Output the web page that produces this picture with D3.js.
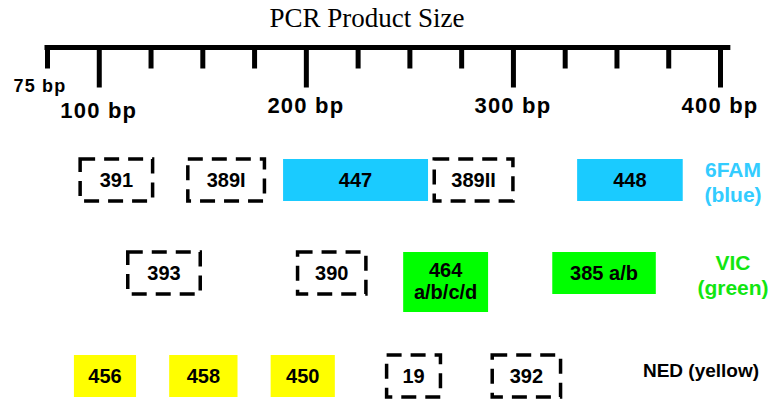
<!DOCTYPE html>
<html>
<head>
<meta charset="utf-8">
<script src="https://cdnjs.cloudflare.com/ajax/libs/d3/7.8.5/d3.min.js"></script>
<style>
  body { margin: 0; background: #fff; }
  text { font-family: "Liberation Sans", Arial, sans-serif; font-weight: bold; }
</style>
</head>
<body>
<div id="chart"></div>
<script>
// PCR product size map: markers placed by size range, one row per dye

var tickBp = [75, 100, 125, 150, 175, 200, 225, 250, 275, 300, 325, 350, 375, 400];
var tickLabels = ["75 bp", "100 bp", "200 bp", "300 bp", "400 bp"];
var labelBp = [75, 100, 200, 300, 400];

var dyes = ["6FAM", "VIC", "NED"];
var dyeNames = ["6FAM\n(blue)", "VIC\n(green)", "NED (yellow)"];

var markers = ["391", "389I", "447", "389II", "448",
               "393", "390", "464\na/b/c/d", "385 a/b",
               "456", "458", "450", "19", "392"];
var startBp = [91, 143, 189, 262, 331, 114, 196, 247, 319, 88, 134, 183, 239, 290];
var endBp   = [126, 180, 259, 300, 382, 149, 229, 288, 369, 118, 167, 214, 265, 323];
var markerDye = ["6FAM", "6FAM", "6FAM", "6FAM", "6FAM",
                 "VIC", "VIC", "VIC", "VIC",
                 "NED", "NED", "NED", "NED", "NED"];
// true = labelled product (filled), false = unlabelled (dashed outline)
var labelled = [false, false, true, false, true,
                false, false, true, true,
                true, true, true, false, false];

var width = 771, height = 402;

var x = d3.scaleLinear().domain([75, 400]).range([47, 720]);
var y = d3.scaleOrdinal().domain(dyes).range([180, 273, 376]);
var fill = d3.scaleOrdinal().domain(dyes).range(["#1acbff", "#00ff00", "#ffff00"]);
var labelColor = d3.scaleOrdinal().domain(dyes).range(["#33ccff", "#11e611", "#000"]);

var svg = d3.select("#chart").append("svg")
    .attr("width", width)
    .attr("height", height);

// title
svg.append("text")
    .attr("x", 367)
    .attr("y", 27)
    .attr("text-anchor", "middle")
    .style("font-family", "'Liberation Serif', 'Times New Roman', serif")
    .style("font-weight", "normal")
    .style("font-size", "27px")
    .text("PCR Product Size");

// axis: thick line plus ticks (longer at every 100 bp)
var axisY = 47.5;
var axis = d3.axisBottom(x)
    .tickValues(tickBp)
    .tickSizeOuter(0)
    .tickFormat("");

var gAxis = svg.append("g")
    .attr("transform", "translate(0," + axisY + ")")
    .call(axis);

gAxis.select(".domain").remove();
gAxis.selectAll(".tick line")
    .attr("stroke", "#000")
    .attr("stroke-width", 5)
    .attr("y1", 0)
    .attr("y2", function(d) { return d % 100 == 0 ? 40 : 21; });

gAxis.append("line")
    .attr("x1", x(75) - 2.5)
    .attr("x2", x(405))
    .attr("y1", 0)
    .attr("y2", 0)
    .attr("stroke", "#000")
    .attr("stroke-width", 5);

// tick labels
svg.selectAll(".bp-label")
    .data(labelBp)
  .enter().append("text")
    .attr("class", "bp-label")
    .attr("x", function(d) { return d == 75 ? x(d) - 7 : x(d); })
    .attr("y", function(d) { return d == 75 ? 92 : (d == 100 ? 118 : 113); })
    .attr("text-anchor", "middle")
    .style("font-size", function(d) { return d == 75 ? "18px" : "22px"; })
    .style("letter-spacing", "1.2px")
    .text(function(d, i) { return tickLabels[i]; });

// marker boxes
var boxH = 42, lineH = 22;
var rows = markers.map(function(m, i) {
    return { name: m, start: startBp[i], end: endBp[i], dye: markerDye[i], filled: labelled[i] };
});

var box = svg.selectAll(".marker")
    .data(rows)
  .enter().append("g")
    .attr("class", "marker");

box.append("rect")
    .attr("x", function(d) { return x(d.start); })
    .attr("width", function(d) { return x(d.end) - x(d.start); })
    .attr("y", function(d) { return y(d.dye) - boxH / 2; })
    .attr("height", function(d) { return boxH + (d.name.split("\n").length - 1) * 18; })
    .attr("fill", function(d) { return d.filled ? fill(d.dye) : "none"; })
    .attr("stroke", function(d) { return d.filled ? "none" : "#000"; })
    .attr("stroke-width", 3.5)
    .attr("stroke-dasharray", "15,9");

box.append("text")
    .attr("text-anchor", "middle")
    .style("font-size", "20px")
    .attr("x", function(d) { return (x(d.start) + x(d.end)) / 2; })
    .attr("y", function(d) {
        var n = d.name.split("\n").length;
        return y(d.dye) + 7 + (n > 1 ? -3 : 0);
    })
    .each(function(d) {
        var t = d3.select(this);
        var lines = d.name.split("\n");
        lines.forEach(function(l, k) {
            t.append("tspan")
                .attr("x", t.attr("x"))
                .attr("dy", k == 0 ? 0 : lineH)
                .text(l);
        });
    });

// dye legend on the right
var legend = svg.selectAll(".dye")
    .data(dyes)
  .enter().append("text")
    .attr("class", "dye")
    .attr("text-anchor", "middle")
    .attr("x", function(d) { return d == "NED" ? 701 : 733; })
    .attr("y", function(d) { return d == "NED" ? y(d) + 1 : y(d) - 3; })
    .style("font-size", function(d) { return d == "NED" ? "19px" : "21px"; })
    .style("fill", function(d) { return labelColor(d); });

legend.each(function(d, i) {
    var t = d3.select(this);
    dyeNames[i].split("\n").forEach(function(l, k) {
        t.append("tspan")
            .attr("x", t.attr("x"))
            .attr("dy", k == 0 ? 0 : 25)
            .text(l);
    });
});
</script>
</body>
</html>
